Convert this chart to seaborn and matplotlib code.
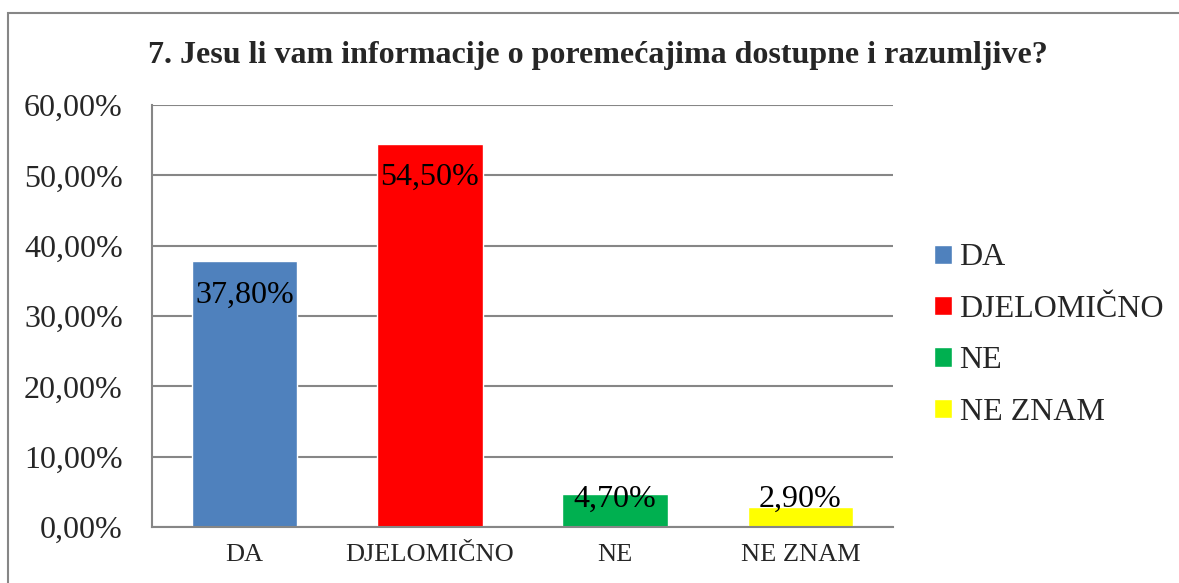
import matplotlib
matplotlib.use("Agg")
import matplotlib.pyplot as plt
import seaborn as sns
import pandas as pd
from matplotlib.patches import Rectangle

categories = ["DA", "DJELOMIČNO", "NE", "NE ZNAM"]
values = [37.8, 54.5, 4.7, 2.9]
value_labels = ["37,80%", "54,50%", "4,70%", "2,90%"]
colors = ["#4F81BD", "#FF0000", "#00B050", "#FFFF00"]
y_ticks = [0, 10, 20, 30, 40, 50, 60]
y_tick_labels = ["0,00%", "10,00%", "20,00%", "30,00%", "40,00%", "50,00%", "60,00%"]
title = "7. Jesu li vam informacije o poremećajima dostupne i razumljive?"

sns.set_theme(style="white")
plt.rcParams["font.family"] = ["Liberation Serif", "DejaVu Serif"]

df = pd.DataFrame({"cat": categories, "val": values})

fig = plt.figure(figsize=(11.79, 5.83), dpi=100)
fig.patch.set_facecolor("white")
W, H = 1179, 583

# outer border (chart area frame)
fig.patches.append(Rectangle((8 / W, -0.05), 1.2, 1 - 13 / H + 0.05, transform=fig.transFigure,
                             fill=False, edgecolor="#868686", linewidth=1.5, zorder=0))

ax = fig.add_axes([152 / W, (H - 527) / H, 741 / W, 422 / H])
sns.barplot(data=df, x="cat", y="val", hue="cat", palette=colors, width=0.57,
            saturation=1, legend=True, ax=ax, zorder=2)

ax.set_ylim(0, 60)
ax.set_yticks(y_ticks)
ax.set_yticklabels(y_tick_labels, fontsize=23)
ax.tick_params(axis="y", length=0, pad=21)
ax.tick_params(axis="x", length=0, pad=12, labelsize=19)
ax.set_xlabel("")
ax.set_ylabel("")
ax.set_axisbelow(True)
ax.yaxis.grid(True, color="#868686", linewidth=1.5)
for s in ["top", "right"]:
    ax.spines[s].set_visible(False)
for s in ["left", "bottom"]:
    ax.spines[s].set_color("#868686")
    ax.spines[s].set_linewidth(1.5)
    ax.spines[s].set_zorder(3)

for i, (v, lab) in enumerate(zip(values, value_labels)):
    ax.annotate(lab, (i, max(v, 8.8)), xytext=(0, -14), textcoords="offset points",
                ha="center", va="top", fontsize=23, color="black", zorder=4)

leg = ax.legend(loc="center left", bbox_to_anchor=(934 / W, 1 - 335 / H),
                bbox_transform=fig.transFigure, frameon=False, fontsize=23,
                handlelength=0.55, handleheight=0.55, handletextpad=0.25,
                labelspacing=0.70, borderpad=0, borderaxespad=0)

fig.text(0.507, 1 - 55 / H, title, ha="center", va="center", fontsize=23, fontweight="bold")

fig.savefig("out.png", dpi=100, facecolor="white")
